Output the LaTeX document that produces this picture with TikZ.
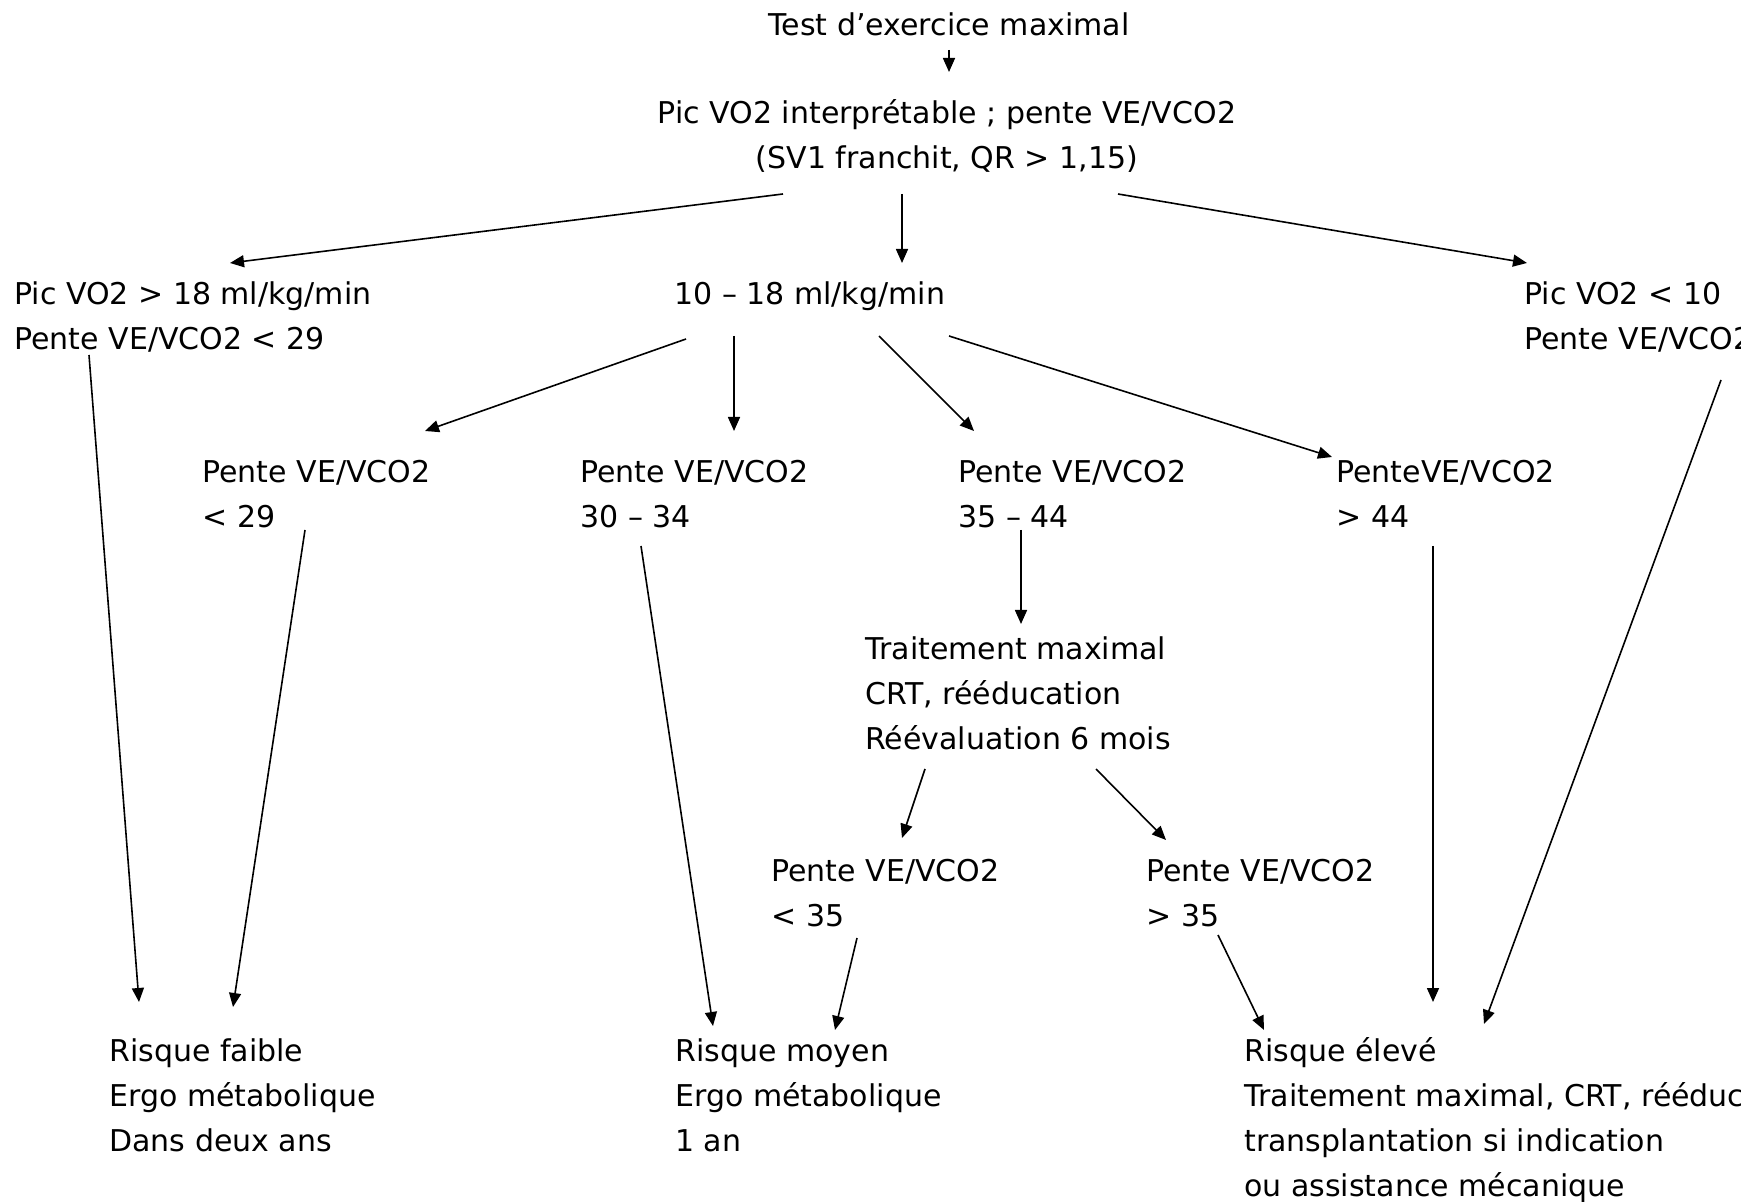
\documentclass[tikz,border=0pt]{standalone}
\usepackage{fontspec}
\setmainfont{DejaVu Sans}
\usetikzlibrary{arrows.meta}
\begin{document}
\begin{tikzpicture}[x=0.5pt,y=-0.5pt,
  txt/.style={anchor=north west, inner sep=0pt, align=left, font=\fontsize{15}{22.5}\selectfont},
  ctxt/.style={txt, anchor=north, align=center},
  arr/.style={line width=0.8pt, -{Triangle[length=7pt,width=6pt]}}]
\useasboundingbox (0,0) rectangle (1741,1202);
\clip (0,0) rectangle (1741,1202);
\fill[white] (0,0) rectangle (1741,1202);
% nodes
\node[ctxt] (title) at (949,4) {\strut Test d’exercice maximal};
\node[ctxt] (top) at (947,91.5) {\strut Pic VO2 interprétable ; pente VE/VCO2\\(SV1 franchit, QR > 1,15)};
\node[txt] (l1) at (14,272.5) {\strut Pic VO2 > 18 ml/kg/min\\Pente VE/VCO2 < 29};
\node[txt] (m1) at (674,272.5) {\strut 10 – 18 ml/kg/min};
\node[txt] (r1) at (1524,272.5) {\strut Pic VO2 < 10\\Pente VE/VCO2 > 44};
\node[txt] (a2) at (202,450.5) {\strut Pente VE/VCO2\\< 29};
\node[txt] (b2) at (580,450.5) {\strut Pente VE/VCO2\\30 – 34};
\node[txt] (c2) at (958,450.5) {\strut Pente VE/VCO2\\35 – 44};
\node[txt] (d2) at (1336,450.5) {\strut PenteVE/VCO2\\> 44};
\node[txt] (tr) at (865,627.5) {\strut Traitement maximal\\CRT, rééducation\\Réévaluation 6 mois};
\node[txt] (a4) at (771,849.5) {\strut Pente VE/VCO2\\< 35};
\node[txt] (b4) at (1146,849.5) {\strut Pente VE/VCO2\\> 35};
\node[txt] (b1) at (109,1029.5) {\strut Risque faible\\Ergo métabolique\\Dans deux ans};
\node[txt] (b3) at (675,1029.5) {\strut Risque moyen\\Ergo métabolique\\1 an};
\node[txt] (b5) at (1244,1029.5) {\strut Risque élevé\\Traitement maximal, CRT, rééducation\\transplantation si indication\\ou assistance mécanique};
% connectors
\draw[arr] ([shift={(0,46)}]title.north) -- ([shift={(2,-19.5)}]top.north);
\draw[arr] ([shift={(-164,102.5)}]top.north) -- ([shift={(216,-9.5)}]l1.north west);
\draw[arr] ([shift={(-45,102.5)}]top.north) -- ([shift={(228,-9.5)}]m1.north west);
\draw[arr] ([shift={(171,102.5)}]top.north) -- ([shift={(3,-9.5)}]r1.north west);
\draw[arr] ([shift={(75,82.5)}]l1.north west) -- ([shift={(30,-27.5)}]b1.north west);
\draw[arr] ([shift={(12,66.5)}]m1.north west) -- ([shift={(223,-19.5)}]a2.north west);
\draw[arr] ([shift={(60,63.5)}]m1.north west) -- ([shift={(154,-19.5)}]b2.north west);
\draw[arr] ([shift={(205,63.5)}]m1.north west) -- ([shift={(16,-19.5)}]c2.north west);
\draw[arr] ([shift={(275,63.5)}]m1.north west) -- ([shift={(-4,6.5)}]d2.north west);
\draw[arr] ([shift={(103,79.5)}]a2.north west) -- ([shift={(124,-22.5)}]b1.north west);
\draw[arr] ([shift={(61,95.5)}]b2.north west) -- ([shift={(38,-3.5)}]b3.north west);
\draw[arr] ([shift={(63,79.5)}]c2.north west) -- ([shift={(156,-3.5)}]tr.north west);
\draw[arr] ([shift={(97,95.5)}]d2.north west) -- ([shift={(189,-27.5)}]b5.north west);
\draw[arr] ([shift={(197,107.5)}]r1.north west) -- ([shift={(240,-5.5)}]b5.north west);
\draw[arr] ([shift={(60,141.5)}]tr.north west) -- ([shift={(131,-11.5)}]a4.north west);
\draw[arr] ([shift={(231,141.5)}]tr.north west) -- ([shift={(20,-9.5)}]b4.north west);
\draw[arr] ([shift={(86,88.5)}]a4.north west) -- ([shift={(160,0.5)}]b3.north west);
\draw[arr] ([shift={(72,85.5)}]b4.north west) -- ([shift={(20,0.5)}]b5.north west);
\end{tikzpicture}
\end{document}
